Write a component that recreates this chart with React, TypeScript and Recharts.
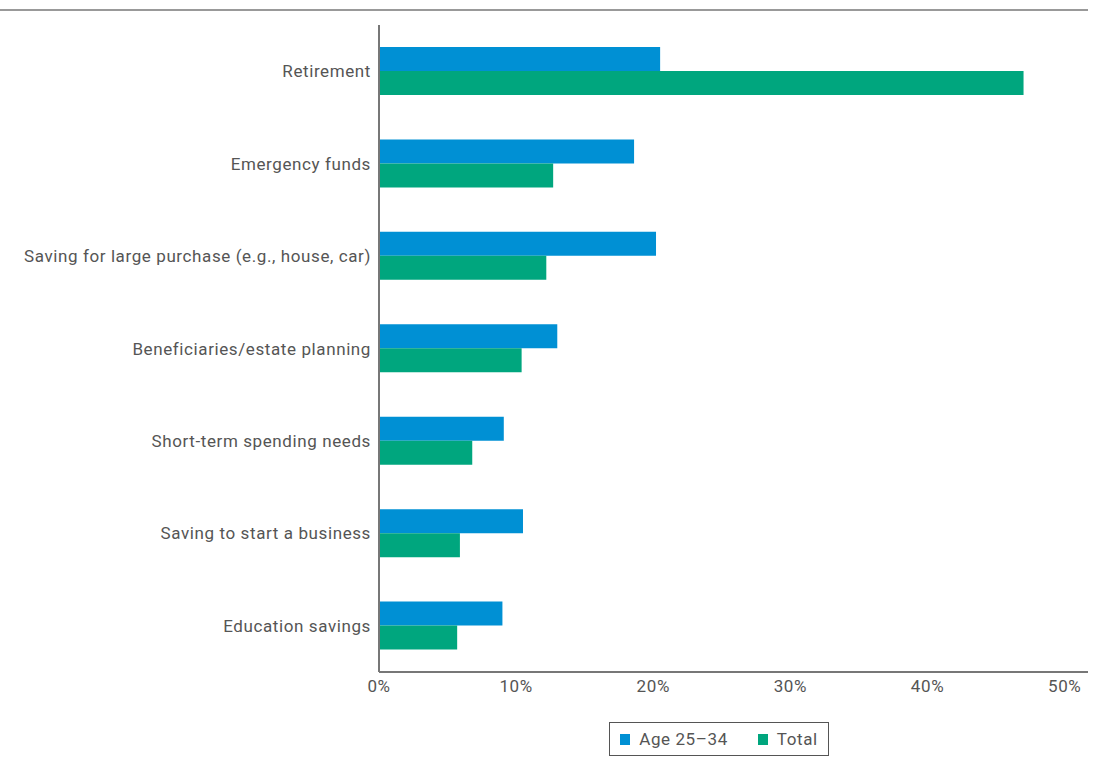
import { BarChart, Bar, XAxis, YAxis, Legend } from 'recharts';

const categories = [
  'Retirement',
  'Emergency funds',
  'Saving for large purchase (e.g., house, car)',
  'Beneficiaries/estate planning',
  'Short-term spending needs',
  'Saving to start a business',
  'Education savings',
];
const age2534 = [20.5, 18.6, 20.2, 13.0, 9.1, 10.5, 9.0];
const total = [47.0, 12.7, 12.2, 10.4, 6.8, 5.9, 5.7];
const xTicks = [0, 10, 20, 30, 40, 50];

const BLUE = '#0090d4';
const GREEN = '#00a67e';
const FONT = 'Roboto, "DejaVu Sans", sans-serif';
const tickStyle = { fill: '#555', fontSize: 17, fontFamily: FONT, letterSpacing: 0.6 };

const data = categories.map((name, i) => ({ name, age: age2534[i], total: total[i] }));

const seriesInfo = [
  { label: 'Age 25–34', color: BLUE },
  { label: 'Total', color: GREEN },
];

function LegendBox() {
  return (
    <div
      style={{
        border: '1.5px solid #555',
        height: 34,
        boxSizing: 'border-box',
        display: 'flex',
        alignItems: 'center',
        justifyContent: 'center',
        gap: 30,
        fontFamily: FONT,
        fontSize: 17,
        letterSpacing: 0.6,
        color: '#555',
      }}
    >
      {seriesInfo.map((s) => (
        <span key={s.label} style={{ display: 'flex', alignItems: 'center' }}>
          <span style={{ width: 10, height: 11, background: s.color, marginRight: 9, display: 'inline-block' }} />
          {s.label}
        </span>
      ))}
    </div>
  );
}

export default function App() {
  return (
    <div style={{ position: 'absolute', left: 0, top: 0, width: 1107, height: 767, background: '#fff' }}>
      <div style={{ position: 'absolute', left: 0, top: 9, width: 1088, height: 2, background: '#999' }} />
      <BarChart
        width={1107}
        height={767}
        data={data}
        layout="vertical"
        margin={{ top: 25, right: 19, left: 0, bottom: 31 }}
        barSize={24}
        barGap={0}
      >
        <XAxis
          type="number"
          domain={[0, 51.7]}
          ticks={xTicks}
          allowDataOverflow
          tickFormatter={(v: number) => `${v}%`}
          axisLine={{ stroke: '#777', strokeWidth: 2 }}
          tickLine={false}
          tick={tickStyle}
        />
        <YAxis
          type="category"
          dataKey="name"
          width={379}
          axisLine={{ stroke: '#777', strokeWidth: 2 }}
          tickLine={false}
          interval={0}
          tick={tickStyle}
        />
        <Legend
          content={() => <LegendBox />}
          wrapperStyle={{ position: 'absolute', left: 609, top: 722, width: 220 }}
        />
        <Bar dataKey="age" name="Age 25–34" fill={BLUE} isAnimationActive={false} />
        <Bar dataKey="total" name="Total" fill={GREEN} isAnimationActive={false} />
      </BarChart>
    </div>
  );
}
